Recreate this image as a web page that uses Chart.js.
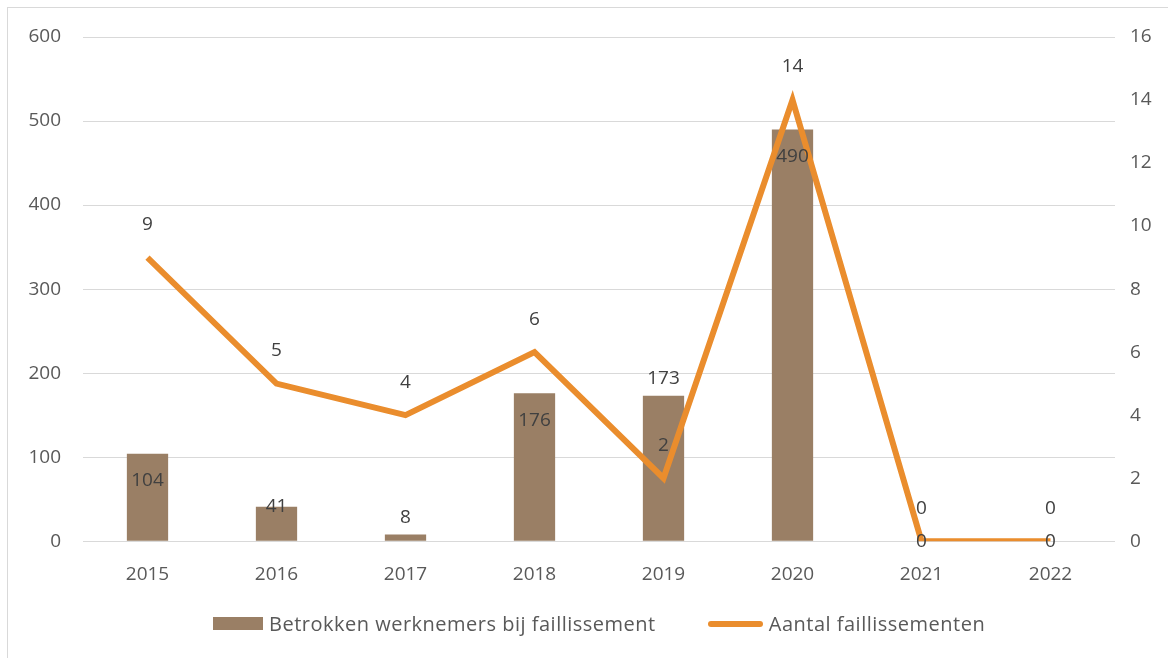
<!DOCTYPE html>
<html>
<head>
<meta charset="utf-8">
<script src="https://cdn.jsdelivr.net/npm/chart.js@4"></script>
<style>
  html, body { margin: 0; padding: 0; background: #fff; overflow: hidden; }
  #frame { position: absolute; left: 7px; top: 7px; width: 1161px; height: 651px; border: 1px solid #d9d9d9; border-right: none; border-bottom: none; box-sizing: border-box; }
  #wrap { position: absolute; left: 0; top: 0; width: 1168px; height: 658px; }
  #legend { position: absolute; left: 213px; top: 610px; display: flex; align-items: center;
            font-family: 'Open Sans', sans-serif; font-size: 20px; letter-spacing: 0.5px; color: #595959; white-space: nowrap; }
  .item { display: flex; align-items: center; margin-right: 52px; }
  .swatch { margin-right: 6px; }
</style>
</head>
<body>
<div id="frame"></div>
<div id="wrap"><canvas id="chart"></canvas></div>
<div id="legend"></div>
<script>
// data
const years = ['2015', '2016', '2017', '2018', '2019', '2020', '2021', '2022'];
const werknemers = [104, 41, 8, 176, 173, 490, 0, 0];
const faillissementen = [9, 5, 4, 6, 2, 14, 0, 0];
const leftTicks = [0, 100, 200, 300, 400, 500, 600];
const rightTicks = [0, 2, 4, 6, 8, 10, 12, 14, 16];

// where each bar label sits (Excel placed them by hand)
const barLabelPlace = ['in', 'top', 'out', 'in', 'out', 'in', 'base', 'base'];

const FONT = "'Open Sans', sans-serif";
const BROWN = '#9a7f65';
const ORANGE = '#ea8d2d';

const labelPlugin = {
  id: 'valueLabels',
  afterDatasetsDraw(chart) {
    const ctx = chart.ctx;
    ctx.save();
    ctx.font = '19px ' + FONT;
    ctx.fillStyle = '#404040';
    ctx.textAlign = 'center';
    ctx.textBaseline = 'middle';
    chart.getDatasetMeta(0).data.forEach((bar, i) => {
      let y = bar.y + 27;
      if (barLabelPlace[i] === 'out') y = bar.y - 17;
      if (barLabelPlace[i] === 'base' || barLabelPlace[i] === 'top') y = bar.y;
      ctx.fillText(werknemers[i], bar.x, y);
    });
    chart.getDatasetMeta(1).data.forEach((pt, i) => {
      ctx.fillText(faillissementen[i], pt.x, pt.y - 33);
    });
    ctx.restore();
  }
};

const chart = new Chart(document.getElementById('chart'), {
  data: {
    labels: years,
    datasets: [
      {
        type: 'bar',
        label: 'Betrokken werknemers bij faillissement',
        data: werknemers,
        backgroundColor: BROWN,
        borderWidth: 0,
        yAxisID: 'y',
        barPercentage: 0.32,
        categoryPercentage: 1,
        order: 2
      },
      {
        type: 'line',
        label: 'Aantal faillissementen',
        data: faillissementen,
        borderColor: ORANGE,
        backgroundColor: ORANGE,
        borderWidth: 6,
        borderJoinStyle: 'miter',
        pointRadius: 0,
        tension: 0,
        yAxisID: 'y1',
        order: 1
      }
    ]
  },
  options: {
    responsive: true,
    maintainAspectRatio: false,
    animation: false,
    layout: { padding: { top: 37, left: 0, right: 0, bottom: 58 } },
    plugins: {
      legend: { display: false },
      tooltip: { enabled: false }
    },
    scales: {
      x: {
        grid: { display: false },
        border: { display: false },
        ticks: { color: '#595959', font: { family: FONT, size: 19 }, padding: 14 }
      },
      y: {
        position: 'left',
        min: 0,
        max: 600,
        afterBuildTicks: axis => { axis.ticks = leftTicks.map(v => ({ value: v })); },
        grid: { color: '#d9d9d9', lineWidth: 1, drawTicks: false },
        border: { display: false },
        ticks: { color: '#595959', font: { family: FONT, size: 19 }, padding: 22 },
        afterFit: axis => { axis.width = 83; }
      },
      y1: {
        position: 'right',
        min: 0,
        max: 16,
        afterBuildTicks: axis => { axis.ticks = rightTicks.map(v => ({ value: v })); },
        grid: { display: false, drawTicks: false },
        border: { display: false },
        ticks: { color: '#595959', font: { family: FONT, size: 19 }, padding: 15 },
        afterFit: axis => { axis.width = 53; }
      }
    }
  },
  plugins: [labelPlugin]
});

// legend built from the datasets, Excel style
const legend = document.getElementById('legend');
chart.data.datasets.forEach(ds => {
  const item = document.createElement('div');
  item.className = 'item';
  const sw = document.createElement('span');
  sw.className = 'swatch';
  if (ds.type === 'bar') {
    sw.style.cssText = `display:inline-block;width:50px;height:13px;background:${ds.backgroundColor}`;
  } else {
    sw.style.cssText = `display:inline-block;width:55px;height:6px;border-radius:3px;background:${ds.borderColor}`;
  }
  const txt = document.createElement('span');
  txt.textContent = ds.label;
  item.appendChild(sw);
  item.appendChild(txt);
  legend.appendChild(item);
});
</script>
</body>
</html>
